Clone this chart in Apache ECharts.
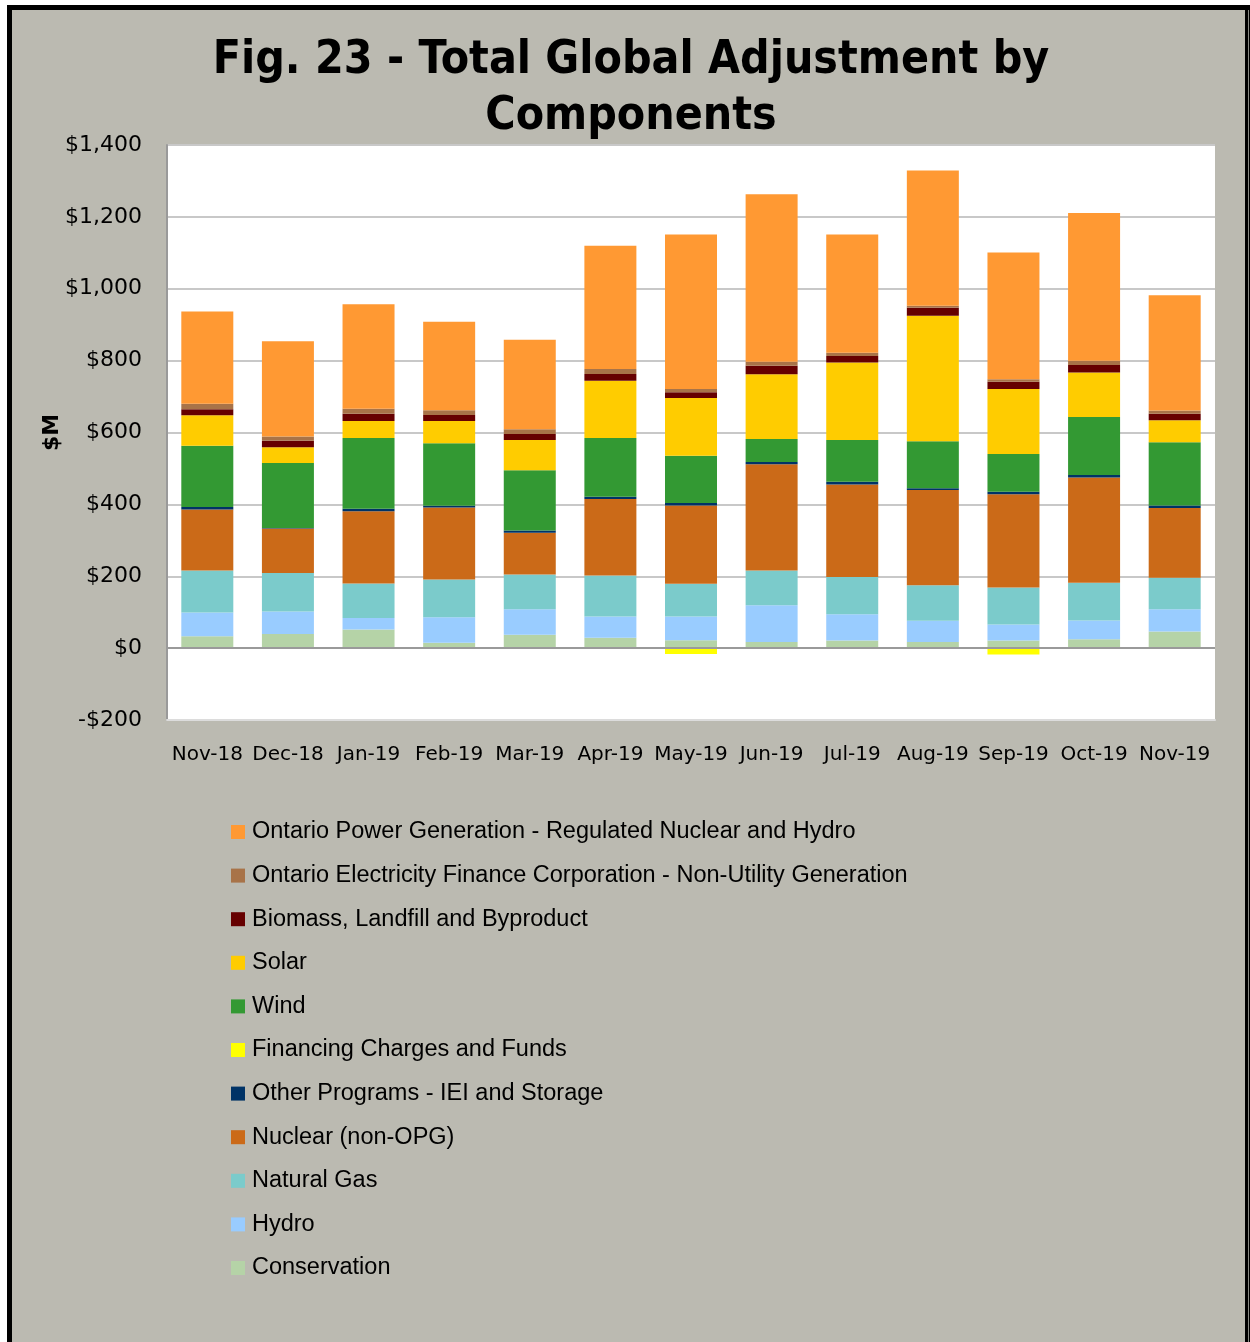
<!DOCTYPE html>
<html><head><meta charset="utf-8">
<script src="https://cdn.jsdelivr.net/npm/echarts/dist/echarts.min.js"></script>
<style>html,body{margin:0;padding:0;background:#fff}#c{width:1250px;height:1342px}</style>
</head><body><div id="c"></div><script>
const categories = ['Nov-18','Dec-18','Jan-19','Feb-19','Mar-19','Apr-19','May-19','Jun-19','Jul-19','Aug-19','Sep-19','Oct-19','Nov-19'];
const conservation = [33,39,52,15,37,29,22,17,21,17,21,25,46];
const hydro = [66,63,32,71,71,59,66,102,73,59,45,52,62];
const naturalGas = [117,107,96,105,97,114,91,97,104,99,103,105,88];
const nuclearNonOPG = [170,124,201,200,116,213,218,296,257,265,259,293,194];
const otherPrograms = [7,1,7,5,6,6,7,6,8,5,7,7,7];
const financing = [0,0,0,0,0,0,-16,0,0,0,-18,0,0];
const wind = [170,181,197,174,168,164,131,64,116,131,105,161,176];
const solar = [85,44,47,62,84,159,161,180,216,349,181,124,61];
const biomass = [17,18,20,17,17,19,16,24,18,22,20,21,18];
const oefc = [15,12,14,13,13,14,9,11,9,6,7,12,9];
const opg = [257,265,291,246,249,343,430,466,329,376,353,411,321];
const yTicks = {min: -200, max: 1400, interval: 200};

const seriesDefs = [
  ['Conservation', conservation, '#B5D3A7'],
  ['Hydro', hydro, '#99CCFF'],
  ['Natural Gas', naturalGas, '#7BCBCB'],
  ['Nuclear (non-OPG)', nuclearNonOPG, '#CB6A18'],
  ['Other Programs - IEI and Storage', otherPrograms, '#003366'],
  ['Financing Charges and Funds', financing, '#FFFF00'],
  ['Wind', wind, '#339933'],
  ['Solar', solar, '#FFCC00'],
  ['Biomass, Landfill and Byproduct', biomass, '#660000'],
  ['Ontario Electricity Finance Corporation - Non-Utility Generation', oefc, '#A87348'],
  ['Ontario Power Generation - Regulated Nuclear and Hydro', opg, '#FF9933']
];

const chart = echarts.init(document.getElementById('c'), null, {renderer: 'canvas'});
const series = seriesDefs.map(function (d, i) {
  const s = {
    name: d[0], type: 'bar', stack: 'ga', data: d[1], barWidth: 52,
    itemStyle: {color: d[2]}
  };
  if (i === 0) {
    s.markLine = {
      silent: true, symbol: 'none', label: {show: false},
      lineStyle: {color: '#9a9a9a', width: 2, type: 'solid'},
      data: [{yAxis: 0}]
    };
  }
  return s;
});

function money(v) {
  const a = Math.abs(v).toLocaleString('en-US');
  return (v < 0 ? '-$' : '$') + a;
}

chart.setOption({
  animation: false,
  backgroundColor: '#ffffff',
  graphic: [
    {type: 'rect', z: -10, silent: true, shape: {x: 9.5, y: 7.5, width: 1238, height: 1345},
     style: {fill: '#bbbab1', stroke: '#000', lineWidth: 5}},
    {type: 'line', z: -9, silent: true, shape: {x1: 1248.5, y1: 10, x2: 1248.5, y2: 1342},
     style: {stroke: '#8a8a84', lineWidth: 1}}
  ],
  title: {
    text: 'Fig. 23 - Total Global Adjustment by\nComponents',
    left: 626, top: 28, textAlign: 'center',
    textStyle: {fontFamily: "'DejaVu Sans Condensed', 'DejaVu Sans'", fontWeight: 'bold', fontSize: 46, lineHeight: 56, color: '#000'}
  },
  legend: {
    orient: 'vertical', left: 231, top: 820, padding: 0,
    icon: 'rect', itemWidth: 14, itemHeight: 14, itemGap: 19.6,
    data: seriesDefs.map(function (d) { return d[0]; }).reverse(),
    textStyle: {fontFamily: "'Liberation Sans', Arial", fontSize: 23.5, lineHeight: 24, color: '#000', padding: [0, 0, 0, 2]}
  },
  grid: {left: 167, top: 145, right: 35, bottom: 622, show: true, backgroundColor: '#fff', borderWidth: 0},
  xAxis: {
    type: 'category', data: categories,
    axisLine: {onZero: false, lineStyle: {color: '#dcdcdc', width: 2}},
    axisTick: {show: false},
    axisLabel: {fontFamily: "'DejaVu Sans'", fontSize: 20, color: '#000', margin: 25, interval: 0}
  },
  yAxis: {
    type: 'value', min: yTicks.min, max: yTicks.max, interval: yTicks.interval,
    name: '$M', nameLocation: 'middle', nameGap: 104, nameRotate: 90, nameMoveOverlap: false,
    nameTextStyle: {fontFamily: "'DejaVu Sans'", fontWeight: 'bold', fontSize: 22, color: '#000'},
    axisLine: {show: true, lineStyle: {color: '#9a9a9a', width: 2}},
    axisTick: {show: false},
    splitLine: {show: true, lineStyle: {color: '#c8c8c8', width: 2}},
    axisLabel: {fontFamily: "'DejaVu Sans'", fontSize: 22, color: '#000', margin: 25, formatter: money}
  },
  series: series
});
</script></body></html>
